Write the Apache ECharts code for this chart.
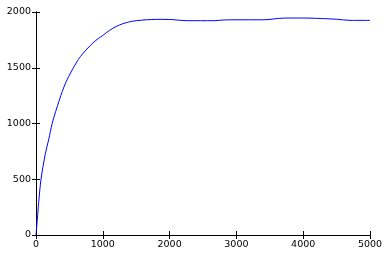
<!DOCTYPE html>
<html>
<head>
<meta charset="utf-8">
<script src="https://cdn.jsdelivr.net/npm/echarts@6/dist/echarts.min.js"></script>
<style>
html,body{margin:0;padding:0;background:#fff;}
#chart{width:389px;height:256px;}
</style>
</head>
<body>
<div id="chart"></div>
<script>
const xValues = [0, 20, 40, 75, 140, 192, 242, 350, 442, 542, 666, 865, 1000, 1100, 1200, 1300, 1400, 1500, 1650, 1800, 2000, 2263, 2662, 2800, 2962, 3400, 3700, 4000, 4200, 4500, 4700, 5000];
const yValues = [0, 140, 290, 500, 730, 860, 1000, 1212, 1362, 1481, 1601, 1730, 1790, 1835, 1870, 1895, 1912, 1922, 1930, 1934, 1933, 1922, 1922, 1928, 1930, 1930, 1945, 1946, 1943, 1935, 1925, 1925];
const xTicks = [0, 1000, 2000, 3000, 4000, 5000];
const yTicks = [0, 500, 1000, 1500, 2000];

const chart = echarts.init(document.getElementById('chart'), null, {renderer: 'canvas'});
const font = {fontFamily: 'DejaVu Sans', fontSize: 9.5, color: '#000', formatter: v => String(v)};
const axisLine = {show: true, lineStyle: {color: '#000', width: 1}};
const tickIn = {show: true, inside: true, length: 4, lineStyle: {color: '#000', width: 1}};
const data = xValues.map((x, i) => [x, yValues[i]]);

chart.setOption({
  animation: false,
  backgroundColor: '#fff',
  grid: {left: 36, right: 19, top: 12, bottom: 21, containLabel: false},
  xAxis: [
    {type: 'value', position: 'bottom', min: xTicks[0], max: xTicks[xTicks.length - 1], interval: 1000,
     axisLine: axisLine, axisTick: tickIn, splitLine: {show: false},
     axisLabel: Object.assign({margin: 5}, font)},
    {type: 'value', position: 'top', min: xTicks[0], max: xTicks[xTicks.length - 1], interval: 1000,
     axisLine: axisLine, axisTick: tickIn, splitLine: {show: false}, axisLabel: {show: false}}
  ],
  yAxis: [
    {type: 'value', position: 'left', min: yTicks[0], max: yTicks[yTicks.length - 1], interval: 500,
     axisLine: axisLine, axisTick: tickIn, splitLine: {show: false},
     axisLabel: Object.assign({margin: 5}, font)},
    {type: 'value', position: 'right', min: yTicks[0], max: yTicks[yTicks.length - 1], interval: 500,
     axisLine: axisLine, axisTick: tickIn, splitLine: {show: false}, axisLabel: {show: false}}
  ],
  series: [{
    type: 'line', data: data, xAxisIndex: 0, yAxisIndex: 0,
    smooth: 0.3, showSymbol: false,
    lineStyle: {color: '#0000ff', width: 1}
  }]
});
</script>
</body>
</html>
